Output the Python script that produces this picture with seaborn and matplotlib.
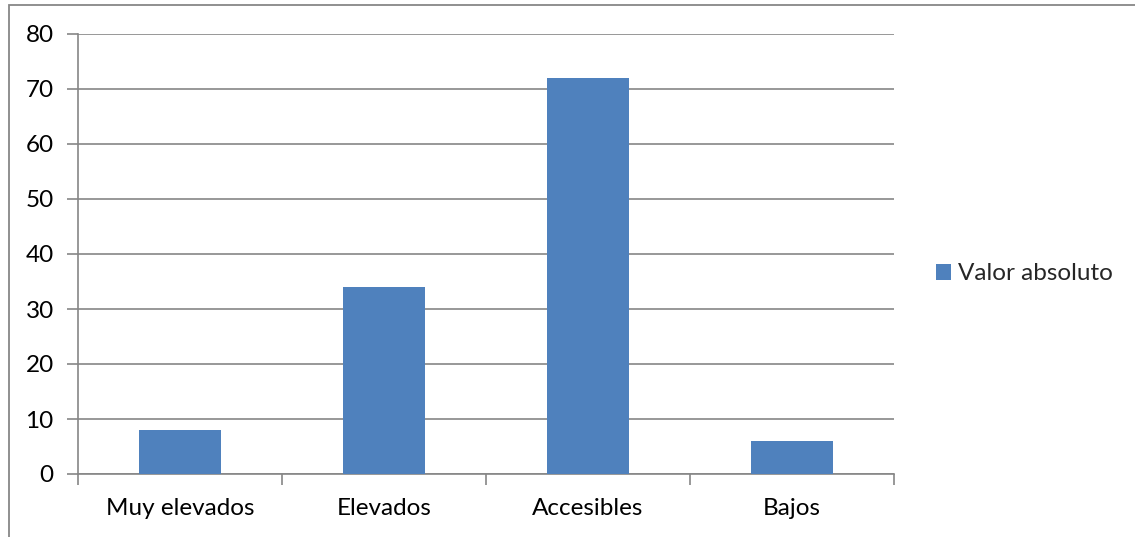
import matplotlib
matplotlib.use("Agg")
import matplotlib.pyplot as plt
import seaborn as sns
import pandas as pd
import numpy as np
from matplotlib.patches import Rectangle, Patch

categories = ["Muy elevados", "Elevados", "Accesibles", "Bajos"]
values = [8, 34, 72, 6]
series_name = "Valor absoluto"
y_ticks = [0, 10, 20, 30, 40, 50, 60, 70, 80]

df = pd.DataFrame({"categoria": categories, "valor": values})

sns.set_theme(style="white")
plt.rcParams["font.family"] = ["Lato", "DejaVu Sans"]

W, H = 1135, 537
fig = plt.figure(figsize=(W / 100, H / 100), dpi=100)
ax = fig.add_axes([78 / W, (H - 474) / H, (894 - 78) / W, (474 - 34) / H])

bar_color = "#4F81BD"
grid_color = "#868686"
fs = 17.5

sns.barplot(data=df, x="categoria", y="valor", color=bar_color, width=0.4,
            saturation=1, linewidth=0, ax=ax, zorder=3)

ax.set_xlim(-0.5, len(categories) - 0.5)
ax.set_ylim(0, 80)
ax.set_yticks(y_ticks)
ax.yaxis.grid(True, color=grid_color, linewidth=1.2, zorder=0)
ax.set_axisbelow(True)
ax.set_xlabel("")
ax.set_ylabel("")

for s in ["top", "right"]:
    ax.spines[s].set_visible(False)
for s in ["left", "bottom"]:
    ax.spines[s].set_color(grid_color)
    ax.spines[s].set_linewidth(1.2)

# category labels centred, tick marks on category boundaries
ax.set_xticks(np.arange(len(categories)))
ax.set_xticklabels(categories)
ax.set_xticks(np.arange(len(categories) + 1) - 0.5, minor=True)
ax.tick_params(axis="x", which="major", length=0, pad=17, labelsize=fs, colors="black")
ax.tick_params(axis="x", which="minor", length=8, width=1.2, color=grid_color, direction="out", bottom=True)
ax.tick_params(axis="y", which="major", length=8, width=1.2, color=grid_color, direction="out",
               left=True, pad=9.5, labelsize=fs, labelcolor="black")

handles = [Patch(facecolor=bar_color, edgecolor="none", label=series_name)]
fig.legend(handles=handles, loc="center left", bbox_to_anchor=(936 / W, (H - 274) / H),
           frameon=False, fontsize=fs, handlelength=0.62, handleheight=0.62,
           handletextpad=0.3, borderaxespad=0, borderpad=0)

# outer chart frame
fig.patches.append(Rectangle((9 / W, -0.1), 1.2, (H - 5) / H + 0.1, transform=fig.transFigure,
                             fill=False, edgecolor="#878787", linewidth=1.3))

fig.savefig("out.png", dpi=100)
